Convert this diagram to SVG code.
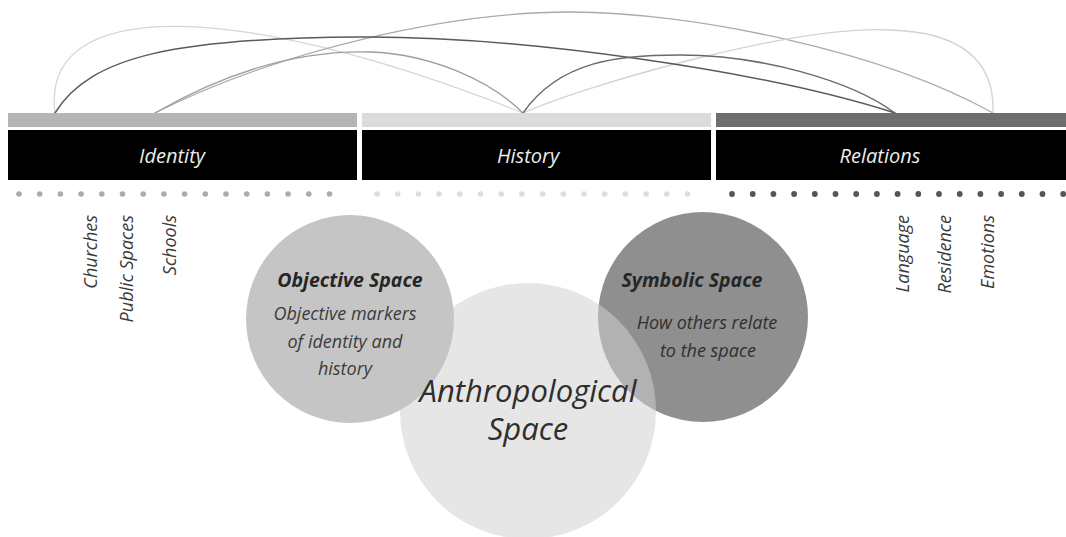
<svg xmlns="http://www.w3.org/2000/svg" width="1066" height="537" viewBox="0 0 1066 537">
  <style>
    text { font-family: "Open Sans", "Noto Sans", "Liberation Sans", sans-serif; font-style: italic; }
    .hdr { fill: #ececec; font-size: 20px; text-anchor: middle; }
    .item { fill: #3a3a3a; font-size: 18px; text-anchor: end; }
    .ttl { font-weight: bold; font-size: 19.5px; text-anchor: middle; fill: #262626; }
    .body { font-size: 18px; text-anchor: middle; fill: #3c3c3c; }
    .big { font-size: 31px; text-anchor: middle; fill: #2e2e2e; }
    .arc { fill: none; stroke-linecap: round; }
    .d1 { fill: #ababab; }
    .d2 { fill: #dedede; }
    .d3 { fill: #555; }
  </style>

  <g id="connectors">
    <path class="arc" d="M55,113 C40,-5 240,0 523,113" stroke="#d6d6d6" stroke-width="1.3"/>
    <path class="arc" d="M155,113 C280,50 450,12 570,12 C690,12 880,50 993,113" stroke="#ababab" stroke-width="1.3"/>
    <path class="arc" d="M155,113 C230,70 300,50 370,52 C430,54 490,80 523,113" stroke="#9e9e9e" stroke-width="1.3"/>
    <path class="arc" d="M523,113 C600,80 800,25 890,30 C960,32 995,60 993,113" stroke="#d2d2d2" stroke-width="1.3"/>
    <path class="arc" d="M55,113 C90,55 180,38 360,37 C520,36 760,70 895,113" stroke="#5a5a5a" stroke-width="1.5"/>
    <path class="arc" d="M523,113 C560,60 620,55 680,55 C760,55 850,80 895,113" stroke="#6a6a6a" stroke-width="1.5"/>
  </g>

  <g id="identity">
    <rect x="8" y="113" width="349" height="14" fill="#b5b5b5"/>
    <rect x="8" y="130" width="349" height="50" fill="#000"/>
    <text class="hdr" x="172" y="163">Identity</text>
    <g class="d1">
      <circle cx="19" cy="194" r="2.8"/><circle cx="39.7" cy="194" r="2.8"/><circle cx="60.4" cy="194" r="2.8"/><circle cx="81.1" cy="194" r="2.8"/>
      <circle cx="101.8" cy="194" r="2.8"/><circle cx="122.5" cy="194" r="2.8"/><circle cx="143.2" cy="194" r="2.8"/><circle cx="163.9" cy="194" r="2.8"/>
      <circle cx="184.6" cy="194" r="2.8"/><circle cx="205.3" cy="194" r="2.8"/><circle cx="226" cy="194" r="2.8"/><circle cx="246.7" cy="194" r="2.8"/>
      <circle cx="267.4" cy="194" r="2.8"/><circle cx="288.1" cy="194" r="2.8"/><circle cx="308.8" cy="194" r="2.8"/><circle cx="329.5" cy="194" r="2.8"/>
    </g>
  </g>

  <g id="history">
    <rect x="362" y="113" width="349" height="14" fill="#dcdcdc"/>
    <rect x="362" y="130" width="349" height="50" fill="#000"/>
    <text class="hdr" x="528" y="163">History</text>
    <g class="d2">
      <circle cx="377" cy="194" r="2.8"/><circle cx="397.7" cy="194" r="2.8"/><circle cx="418.4" cy="194" r="2.8"/><circle cx="439.1" cy="194" r="2.8"/>
      <circle cx="459.8" cy="194" r="2.8"/><circle cx="480.5" cy="194" r="2.8"/><circle cx="501.2" cy="194" r="2.8"/><circle cx="521.9" cy="194" r="2.8"/>
      <circle cx="542.6" cy="194" r="2.8"/><circle cx="563.3" cy="194" r="2.8"/><circle cx="584" cy="194" r="2.8"/><circle cx="604.7" cy="194" r="2.8"/>
      <circle cx="625.4" cy="194" r="2.8"/><circle cx="646.1" cy="194" r="2.8"/><circle cx="666.8" cy="194" r="2.8"/><circle cx="687.5" cy="194" r="2.8"/>
    </g>
  </g>

  <g id="relations">
    <rect x="716" y="113" width="350" height="14" fill="#6e6e6e"/>
    <rect x="716" y="130" width="350" height="50" fill="#000"/>
    <text class="hdr" x="880" y="163">Relations</text>
    <g class="d3">
      <circle cx="732" cy="194" r="2.9"/><circle cx="752.7" cy="194" r="2.9"/><circle cx="773.4" cy="194" r="2.9"/><circle cx="794.1" cy="194" r="2.9"/>
      <circle cx="814.8" cy="194" r="2.9"/><circle cx="835.5" cy="194" r="2.9"/><circle cx="856.2" cy="194" r="2.9"/><circle cx="876.9" cy="194" r="2.9"/>
      <circle cx="897.6" cy="194" r="2.9"/><circle cx="918.3" cy="194" r="2.9"/><circle cx="939" cy="194" r="2.9"/><circle cx="959.7" cy="194" r="2.9"/>
      <circle cx="980.4" cy="194" r="2.9"/><circle cx="1001.1" cy="194" r="2.9"/><circle cx="1021.8" cy="194" r="2.9"/><circle cx="1042.5" cy="194" r="2.9"/>
      <circle cx="1063.2" cy="194" r="2.9"/>
    </g>
  </g>

  <g id="identity-items">
    <text class="item" transform="translate(97,215) rotate(-90)">Churches</text>
    <text class="item" transform="translate(133,215) rotate(-90)">Public Spaces</text>
    <text class="item" transform="translate(176,215) rotate(-90)">Schools</text>
  </g>

  <g id="relations-items">
    <text class="item" transform="translate(909,215) rotate(-90)">Language</text>
    <text class="item" transform="translate(951,215) rotate(-90)">Residence</text>
    <text class="item" transform="translate(994,215) rotate(-90)">Emotions</text>
  </g>

  <g id="symbolic-space">
    <circle cx="703" cy="317" r="105" fill="#8f8f8f"/>
    <text class="ttl" x="692" y="287">Symbolic Space</text>
    <text class="body" x="707" y="329" style="fill:#303030">How others relate</text>
    <text class="body" x="708" y="357" style="fill:#303030">to the space</text>
  </g>

  <g id="anthropological-space">
    <circle cx="528" cy="411" r="128" fill="#d0d0d0" fill-opacity="0.54"/>
  </g>

  <g id="objective-space">
    <circle cx="350" cy="319" r="104" fill="#c5c5c5"/>
    <text class="ttl" x="350" y="287">Objective Space</text>
    <text class="body" x="345" y="320">Objective markers</text>
    <text class="body" x="345" y="348">of identity and</text>
    <text class="body" x="345" y="375">history</text>
  </g>

  <g id="anthropological-label">
    <text class="big" x="528" y="402">Anthropological</text>
    <text class="big" x="528" y="440">Space</text>
  </g>
</svg>
